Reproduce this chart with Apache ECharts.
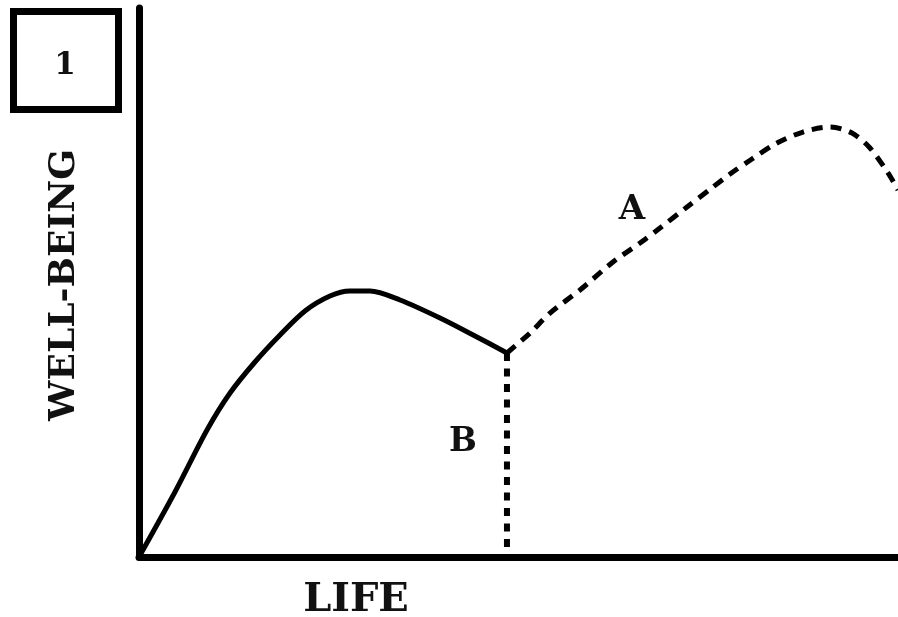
<!DOCTYPE html>
<html>
<head>
<meta charset="utf-8">
<script src="https://cdn.jsdelivr.net/npm/echarts@6/dist/echarts.min.js"></script>
<style>
  html, body { margin: 0; padding: 0; background: #fff; }
  #main { width: 898px; height: 617px; }
</style>
</head>
<body>
<div id="main"></div>
<script>
// solid curve (life so far) - [life, well-being]
const lifeSoFar = [
  [0, 0], [4.74, 11.84], [8.96, 23.13], [11.99, 29.87], [15.28, 35.52],
  [18.58, 40.44], [21.87, 44.81], [25.16, 47.54], [27.8, 48.45], [30.43, 48.45],
  [34.39, 46.81], [39.66, 43.53], [44.27, 40.26], [48.48, 37.16]
];
// dashed curve A
const pathA = [
  [48.48, 37.16], [51.52, 40.8], [54.15, 44.44], [58.1, 48.63], [62.45, 53.73],
  [66.01, 57.19], [68.64, 59.93], [72.2, 63.75], [75.63, 67.4], [77.87, 69.76],
  [80.76, 72.5], [84.06, 75.41], [87.48, 77.41], [91.04, 78.32], [93.94, 77.23],
  [96.31, 74.5], [98.68, 69.95], [100, 66.85]
];
// dashed drop B
const pathB = [[48.48, 37.16], [48.48, 1.6]];

const labelFont = 'DejaVu Serif';

let myChart = echarts.init(document.getElementById('main'));
const option = {
  animation: false,
  grid: { left: 139, right: 0, top: 8, bottom: 60 },
  xAxis: {
    type: 'value', min: 0, max: 100,
    axisLine: { show: true, onZero: false, lineStyle: { color: '#000', width: 7 } },
    axisTick: { show: false }, axisLabel: { show: false }, splitLine: { show: false }
  },
  yAxis: {
    type: 'value', min: 0, max: 100,
    axisLine: { show: true, onZero: false, lineStyle: { color: '#000', width: 7 } },
    axisTick: { show: false }, axisLabel: { show: false }, splitLine: { show: false }
  },
  series: [
    {
      type: 'line', data: lifeSoFar, showSymbol: false, smooth: 0.3,
      lineStyle: { color: '#000', width: 5 }
    },
    {
      type: 'line', data: pathA, showSymbol: false, smooth: 0.3,
      lineStyle: { color: '#000', width: 5, type: [11, 8], cap: 'butt' }
    },
    {
      type: 'line', data: pathB, showSymbol: false,
      lineStyle: { color: '#000', width: 6, type: [8, 7.5], cap: 'butt' }
    }
  ],
  graphic: [
    {
      type: 'rect', shape: { x: 13.5, y: 11.5, width: 105, height: 98 },
      style: { fill: 'none', stroke: '#000', lineWidth: 7 }
    },
    {
      type: 'text', x: 65, y: 66,
      style: { text: '1', font: 'bold 31px ' + labelFont, fill: '#111', align: 'center', verticalAlign: 'middle' }
    },
    {
      type: 'text', x: 356, y: 601,
      style: { text: 'LIFE', font: 'bold 40px ' + labelFont, fill: '#111', align: 'center', verticalAlign: 'middle' }
    },
    {
      type: 'text', x: 65, y: 285, rotation: Math.PI / 2,
      style: { text: 'WELL-BEING', font: 'bold 36px ' + labelFont, fill: '#111', align: 'center', verticalAlign: 'middle' }
    },
    {
      type: 'text', x: 632, y: 210,
      style: { text: 'A', font: 'bold 34px ' + labelFont, fill: '#111', align: 'center', verticalAlign: 'middle' }
    },
    {
      type: 'text', x: 463, y: 442,
      style: { text: 'B', font: 'bold 33px ' + labelFont, fill: '#111', align: 'center', verticalAlign: 'middle' }
    }
  ]
};
myChart.setOption(option);
</script>
</body>
</html>
